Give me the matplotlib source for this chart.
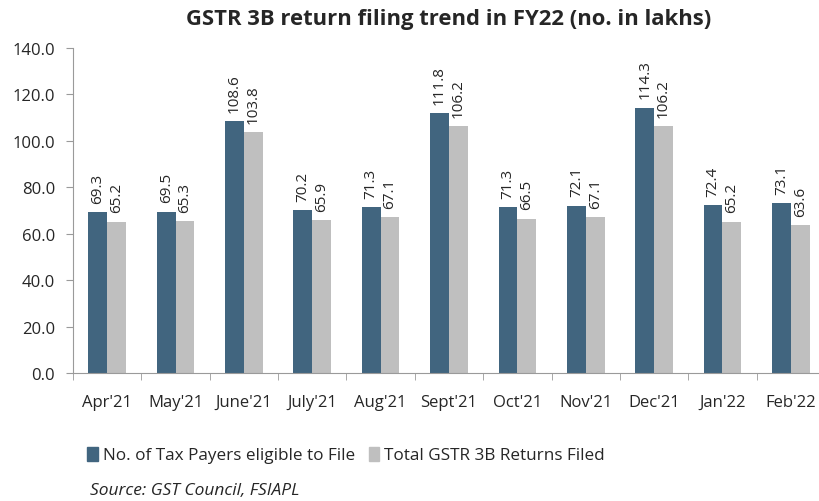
import matplotlib
matplotlib.use("Agg")
import matplotlib.pyplot as plt
import numpy as np
from matplotlib.patches import Patch

months = ["Apr'21", "May'21", "June'21", "July'21", "Aug'21", "Sept'21",
          "Oct'21", "Nov'21", "Dec'21", "Jan'22", "Feb'22"]
eligible = [69.3, 69.5, 108.6, 70.2, 71.3, 111.8, 71.3, 72.1, 114.3, 72.4, 73.1]
filed = [65.2, 65.3, 103.8, 65.9, 67.1, 106.2, 66.5, 67.1, 106.2, 65.2, 63.6]
series_names = ["No. of Tax Payers eligible to File", "Total GSTR 3B Returns Filed"]
yticks = [0, 20, 40, 60, 80, 100, 120, 140]

plt.rcParams['font.family'] = ['Open Sans', 'DejaVu Sans']
dark = '#41657F'
grey = '#BFBFBF'
txt = '#262626'

fig = plt.figure(figsize=(8.2, 5.02), dpi=100)
ax = fig.add_axes([73/820, 1-374/502, (825-73)/820, (374-49)/502])

x = np.arange(len(months))
w = 0.275
b1 = ax.bar(x - w/2, eligible, w, color=dark)
b2 = ax.bar(x + w/2, filed, w, color=grey)

for bars, vals in ((b1, eligible), (b2, filed)):
    for r, v in zip(bars, vals):
        ax.text(r.get_x() + r.get_width()/2, v + 4.0, f"{v:.1f}", rotation=90,
                ha='center', va='bottom', fontsize=11, color=txt)

ax.set_xlim(-0.5, len(months) - 0.5)
ax.set_ylim(0, 140)
ax.set_yticks(yticks)
ax.set_yticklabels([f"{t:.1f}" for t in yticks], fontsize=12, color=txt)
ax.set_xticks(x)
ax.set_xticklabels(months, fontsize=12, color=txt)
ax.tick_params(axis='x', length=0, pad=15)
ax.set_xticks(np.arange(len(months) + 1) - 0.5, minor=True)
ax.tick_params(axis='x', which='minor', length=5, color='#9a9a9a', direction='out')
ax.tick_params(axis='y', length=5, color='#9a9a9a', direction='out', pad=8)
for s in ('top', 'right'):
    ax.spines[s].set_visible(False)
for s in ('left', 'bottom'):
    ax.spines[s].set_color('#9a9a9a')

fig.text(449/820, 1-19/502, "GSTR 3B return filing trend in FY22 (no. in lakhs)",
         ha='center', va='center', fontsize=15.8, fontweight='bold', color=txt)

handles = [Patch(color=dark), Patch(color=grey)]
fig.legend(handles, series_names, loc='center left', bbox_to_anchor=(72/820, 1-456/502),
           frameon=False, fontsize=12.3, handlelength=0.6, handleheight=0.9,
           handletextpad=0.3, columnspacing=0.8, ncol=2, labelcolor=txt)

fig.text(90/820, 1-491/502, "Source: GST Council, FSIAPL", ha='left', va='center',
         fontsize=12.5, fontstyle='italic', color=txt)

fig.savefig("out.png", dpi=100)
